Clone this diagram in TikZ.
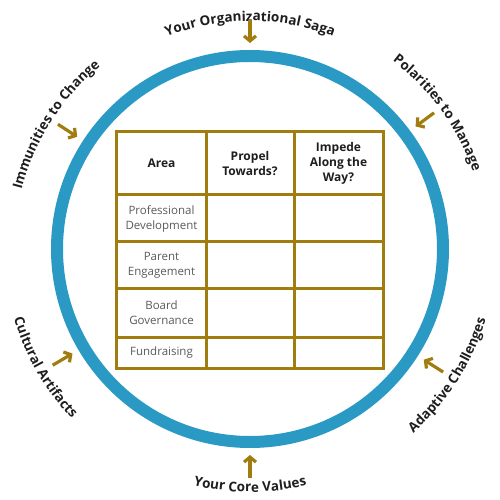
\documentclass[tikz,border=0pt]{standalone}
\usepackage{fontspec}
\setmainfont{Open Sans}
\usepackage{xcolor}
\usetikzlibrary{arrows.meta, decorations.text}

\definecolor{kreisblau}{HTML}{2A9AC4}
\definecolor{gold}{HTML}{A07D0E}
\definecolor{textgrau}{HTML}{5A5A5A}
\definecolor{textdunkel}{HTML}{1E1E1E}

\newcommand{\bogenschrift}{\bfseries\fontsize{13.5}{16}\selectfont\color{textdunkel}}

\tikzset{
  pfeil/.style={-{Straight Barb[length=5pt,width=12pt]}, line width=3.2pt, draw=gold},
  tabelle/.style={line width=3pt, draw=gold, line join=miter},
  kopf/.style={font=\bfseries\fontsize{12}{15}\selectfont, text=textdunkel, align=center},
  zeile/.style={font=\fontsize{11.5}{15}\selectfont, text=textgrau, align=center},
  bogen/.style={decorate, decoration={text along path, text align=center,
      text={|\bogenschrift|#1}}}
}

\begin{document}
\begin{tikzpicture}[x=1pt, y=1pt]
\useasboundingbox (-250,-251) rectangle (250,249);

% Kreis
\draw[kreisblau, line width=12pt] (0,0) circle[radius=193pt];

% Tabelle
\draw[tabelle] (-133,117) rectangle (133,-119);
\foreach \x in {-44,44}
{
    \draw[tabelle] (\x,117) -- (\x,-119);
}
\foreach \y in {54,7,-40,-88}
{
    \draw[tabelle] (-133,\y) -- (133,\y);
}

% Kopfzeile
\node[kopf] (area) at (-88.5,85.5) {Area};
\node[kopf] (propel) at (0,85.5) {Propel\\Towards?};
\node[kopf] (impede) at (88.5,85.5) {Impede\\Along the\\Way?};

% Bereiche
\node[zeile] (prof) at (-88.5,30.5) {Professional\\Development};
\node[zeile] (eltern) at (-88.5,-16.5) {Parent\\Engagement};
\node[zeile] (board) at (-88.5,-64) {Board\\Governance};
\node[zeile] (fund) at (-88.5,-103.5) {Fundraising};

% Beschriftungen am Kreis
\path[bogen={Your Organizational Saga}] (130:228) arc[start angle=130, end angle=50, radius=228pt];
\path[bogen={Immunities to Change}] (187.4:236) arc[start angle=187.4, end angle=107.4, radius=236pt];
\path[bogen={Polarities to Manage}] (76:236) arc[start angle=76, end angle=-4, radius=236pt];
\path[bogen={Cultural Artifacts}] (170:246) arc[start angle=170, end angle=250, radius=246pt];
\path[bogen={Adaptive Challenges}] (287.5:246) arc[start angle=287.5, end angle=367.5, radius=246pt];
\path[bogen={Your Core Values}] (230:243) arc[start angle=230, end angle=310, radius=243pt];

% Pfeile zum Kreis
\foreach \w [count=\i] in {90,147,36.5,210.5,327.5,270}
{
    \coordinate (anfang\i) at (\w:229);
    \coordinate (spitze\i) at (\w:206);
    \draw[pfeil] (anfang\i) -- (spitze\i);
}

\end{tikzpicture}
\end{document}
